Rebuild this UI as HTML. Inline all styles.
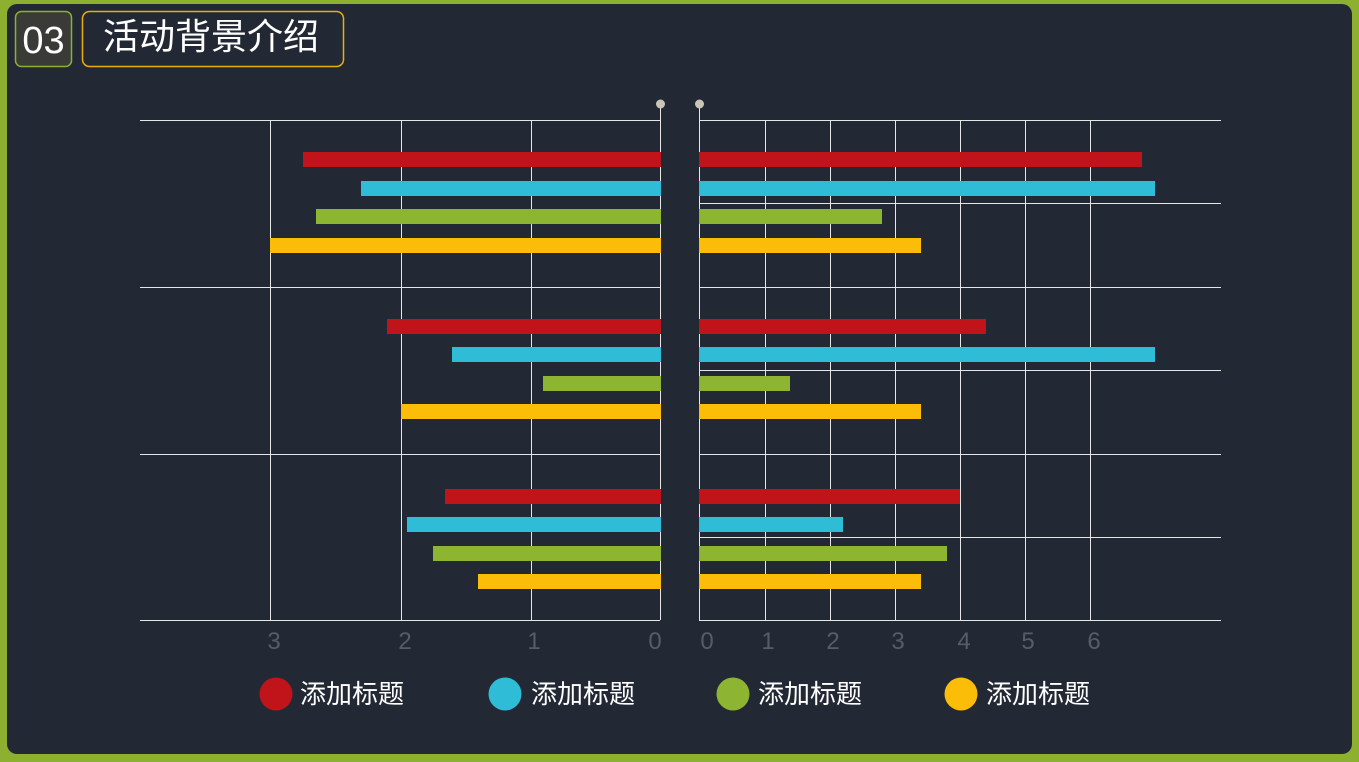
<!DOCTYPE html>
<html><head><meta charset="utf-8"><style>
html,body{margin:0;padding:0;width:1359px;height:762px;overflow:hidden;background:#8db030;}
svg{display:block}
</style></head><body>
<svg width="1359" height="762" viewBox="0 0 1359 762" xmlns="http://www.w3.org/2000/svg" font-family="Liberation Sans, Noto Sans CJK SC, sans-serif">
<rect x="0" y="0" width="1359" height="762" fill="#8db030"/>
<rect x="7" y="4" width="1345" height="750" rx="10" fill="#232934"/>
<rect x="15.5" y="11.5" width="56" height="55" rx="6" fill="#3a3a36" stroke="#8db030" stroke-width="1.5"/>
<text x="43.5" y="53" font-size="38" fill="#fff" text-anchor="middle">03</text>
<rect x="82.5" y="11.5" width="261" height="55" rx="7" fill="none" stroke="#e8ac14" stroke-width="1.5"/>
<text x="211" y="49" font-size="36" fill="#fff" text-anchor="middle" font-family="Noto Sans CJK SC, sans-serif">活动背景介绍</text>
<g stroke="#e6e6e6" stroke-width="1">
<line x1="140" y1="120.5" x2="660" y2="120.5"/>
<line x1="140" y1="287.5" x2="660" y2="287.5"/>
<line x1="140" y1="454.5" x2="660" y2="454.5"/>
<line x1="140" y1="620.5" x2="660" y2="620.5"/>
<line x1="270.5" y1="120" x2="270.5" y2="620"/>
<line x1="401.5" y1="120" x2="401.5" y2="620"/>
<line x1="531.5" y1="120" x2="531.5" y2="620"/>
<line x1="660.5" y1="104" x2="660.5" y2="620"/>
<line x1="699.5" y1="104" x2="699.5" y2="620"/>
<line x1="699" y1="120.5" x2="1221" y2="120.5"/>
<line x1="699" y1="203.5" x2="1221" y2="203.5"/>
<line x1="699" y1="287.5" x2="1221" y2="287.5"/>
<line x1="699" y1="370.5" x2="1221" y2="370.5"/>
<line x1="699" y1="454.5" x2="1221" y2="454.5"/>
<line x1="699" y1="537.5" x2="1221" y2="537.5"/>
<line x1="699" y1="620.5" x2="1221" y2="620.5"/>
<line x1="765.5" y1="120" x2="765.5" y2="620"/>
<line x1="830.5" y1="120" x2="830.5" y2="620"/>
<line x1="895.5" y1="120" x2="895.5" y2="620"/>
<line x1="960.5" y1="120" x2="960.5" y2="620"/>
<line x1="1025.5" y1="120" x2="1025.5" y2="620"/>
<line x1="1090.5" y1="120" x2="1090.5" y2="620"/>
</g>
<circle cx="660.5" cy="104" r="4.5" fill="#c9c6b8"/>
<circle cx="699.5" cy="104" r="4.5" fill="#c9c6b8"/>
<g>
<rect x="303" y="152" width="358" height="15" fill="#c0141a"/>
<rect x="361" y="181" width="300" height="15" fill="#2ebcd6"/>
<rect x="316" y="209" width="345" height="15" fill="#8db531"/>
<rect x="270" y="238" width="391" height="15" fill="#fbbd08"/>
<rect x="387" y="319" width="274" height="15" fill="#c0141a"/>
<rect x="452" y="347" width="209" height="15" fill="#2ebcd6"/>
<rect x="543" y="376" width="118" height="15" fill="#8db531"/>
<rect x="401" y="404" width="260" height="15" fill="#fbbd08"/>
<rect x="445" y="489" width="216" height="15" fill="#c0141a"/>
<rect x="407" y="517" width="254" height="15" fill="#2ebcd6"/>
<rect x="433" y="546" width="228" height="15" fill="#8db531"/>
<rect x="478" y="574" width="183" height="15" fill="#fbbd08"/>
<rect x="699" y="152" width="443" height="15" fill="#c0141a"/>
<rect x="699" y="181" width="456" height="15" fill="#2ebcd6"/>
<rect x="699" y="209" width="183" height="15" fill="#8db531"/>
<rect x="699" y="238" width="222" height="15" fill="#fbbd08"/>
<rect x="699" y="319" width="287" height="15" fill="#c0141a"/>
<rect x="699" y="347" width="456" height="15" fill="#2ebcd6"/>
<rect x="699" y="376" width="91" height="15" fill="#8db531"/>
<rect x="699" y="404" width="222" height="15" fill="#fbbd08"/>
<rect x="699" y="489" width="261" height="15" fill="#c0141a"/>
<rect x="699" y="517" width="144" height="15" fill="#2ebcd6"/>
<rect x="699" y="546" width="248" height="15" fill="#8db531"/>
<rect x="699" y="574" width="222" height="15" fill="#fbbd08"/>
</g>
<g font-size="24" fill="#555d6a" text-anchor="middle">
<text x="274" y="649">3</text><text x="405" y="649">2</text><text x="534" y="649">1</text><text x="655" y="649">0</text>
<text x="707" y="649">0</text><text x="768" y="649">1</text><text x="833" y="649">2</text><text x="898" y="649">3</text><text x="964" y="649">4</text><text x="1028" y="649">5</text><text x="1094" y="649">6</text>
</g>
<g font-size="26" fill="#fff" font-family="Noto Sans CJK SC, sans-serif">
<circle cx="276" cy="694" r="16.5" fill="#c0141a"/><text x="300" y="703">添加标题</text>
<circle cx="505" cy="694" r="16.5" fill="#2ebcd6"/><text x="531" y="703">添加标题</text>
<circle cx="733" cy="694" r="16.5" fill="#8db531"/><text x="758" y="703">添加标题</text>
<circle cx="961" cy="694" r="16.5" fill="#fbbd08"/><text x="986" y="703">添加标题</text>
</g>
</svg>
</body></html>
